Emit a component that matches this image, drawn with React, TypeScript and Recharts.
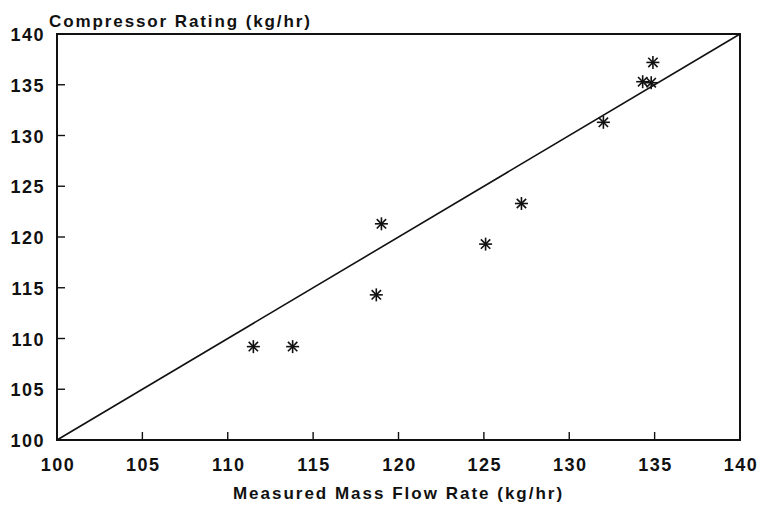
import {
  ReferenceArea,
  ReferenceLine,
  Scatter,
  ScatterChart,
  XAxis,
  YAxis,
} from "recharts";

const measured = [111.5, 113.8, 118.7, 119.0, 125.1, 127.2, 132.0, 134.3, 134.8, 134.9];
const rating = [109.2, 109.2, 114.3, 121.3, 119.3, 123.3, 131.3, 135.3, 135.2, 137.2];
const axisTicks = [100, 105, 110, 115, 120, 125, 130, 135, 140];
const diagonal = [100, 140];

const points = measured.map((m, i) => ({ x: m, y: rating[i] }));

const font = "'Liberation Sans', Arial, sans-serif";
const ink = "#111";

function Asterisk(props: any) {
  const { cx, cy } = props;
  const r = 6.5;
  const d = r * 0.72;
  return (
    <g stroke={ink} strokeWidth={1.6}>
      <line x1={cx - r} y1={cy} x2={cx + r} y2={cy} />
      <line x1={cx} y1={cy - r} x2={cx} y2={cy + r} />
      <line x1={cx - d} y1={cy - d} x2={cx + d} y2={cy + d} />
      <line x1={cx - d} y1={cy + d} x2={cx + d} y2={cy - d} />
    </g>
  );
}

function XTick(props: any) {
  const { x, y, payload } = props;
  return (
    <g>
      <line x1={x} y1={y} x2={x} y2={y - 8} stroke={ink} strokeWidth={1.4} />
      <text
        x={x + 1}
        y={y + 31}
        textAnchor="middle"
        fontFamily={font}
        fontWeight="bold"
        fontSize={18}
        letterSpacing={1.5}
        fill={ink}
      >
        {payload.value}
      </text>
    </g>
  );
}

function YTick(props: any) {
  const { x, y, payload } = props;
  return (
    <g>
      <line x1={x} y1={y} x2={x + 8} y2={y} stroke={ink} strokeWidth={1.4} />
      <text
        x={x - 12}
        y={y + 7}
        textAnchor="end"
        fontFamily={font}
        fontWeight="bold"
        fontSize={18}
        letterSpacing={1.5}
        fill={ink}
      >
        {payload.value}
      </text>
    </g>
  );
}

export default function App() {
  return (
    <div style={{ position: "absolute", left: 0, top: 0, background: "#fff" }}>
      <ScatterChart
        width={762}
        height={506}
        margin={{ top: 34, right: 22, left: 0, bottom: 0 }}
      >
        <XAxis
          type="number"
          dataKey="x"
          domain={[100, 140]}
          ticks={axisTicks}
          height={66}
          tickSize={0}
          tickMargin={0}
          tickLine={false}
          axisLine={{ stroke: ink, strokeWidth: 2 }}
          tick={<XTick />}
          interval={0}
          label={{
            content: (p: any) => {
              const vb = p.viewBox;
              return (
                <text
                  x={vb.x + vb.width / 2}
                  y={vb.y + 59}
                  textAnchor="middle"
                  fontFamily={font}
                  fontWeight="bold"
                  fontSize={17}
                  letterSpacing={2}
                  fill={ink}
                >
                  Measured Mass Flow Rate (kg/hr)
                </text>
              );
            },
          }}
        />
        <YAxis
          type="number"
          dataKey="y"
          domain={[100, 140]}
          ticks={axisTicks}
          width={57}
          tickSize={0}
          tickMargin={0}
          tickLine={false}
          axisLine={{ stroke: ink, strokeWidth: 2 }}
          tick={<YTick />}
          interval={0}
          label={{
            content: (p: any) => {
              const vb = p.viewBox;
              return (
                <text
                  x={vb.x + vb.width - 8}
                  y={vb.y - 7}
                  textAnchor="start"
                  fontFamily={font}
                  fontWeight="bold"
                  fontSize={17}
                  letterSpacing={1.9}
                  fill={ink}
                >
                  Compressor Rating (kg/hr)
                </text>
              );
            },
          }}
        />
        <ReferenceArea
          x1={100}
          x2={140}
          y1={100}
          y2={140}
          fill="none"
          stroke={ink}
          strokeWidth={2}
          fillOpacity={0}
        />
        <ReferenceLine
          segment={[
            { x: diagonal[0], y: diagonal[0] },
            { x: diagonal[1], y: diagonal[1] },
          ]}
          stroke={ink}
          strokeWidth={1.6}
        />
        <Scatter data={points} shape={<Asterisk />} isAnimationActive={false} />
      </ScatterChart>
    </div>
  );
}
